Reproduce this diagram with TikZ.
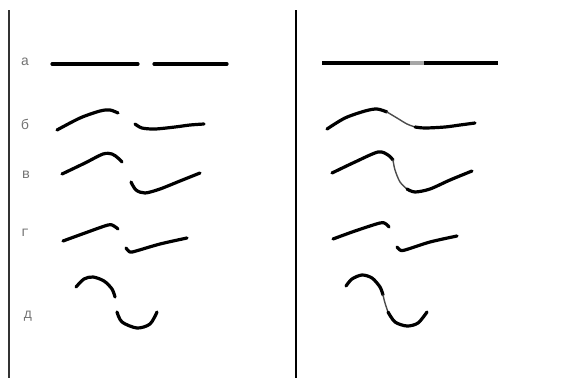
\documentclass[tikz,border=0pt]{standalone}
\usepackage{fontspec}
\newfontfamily\labelfont{Liberation Mono}
\usetikzlibrary{positioning}

\begin{document}
\begin{tikzpicture}[
  x=1pt, y=-1pt,
  rowlabel/.style={font=\labelfont\fontsize{14}{16}\selectfont, text=black!55},
  rule/.style={line width=1.8pt},
  stroke/.style={line width=3.2pt, line cap=round, line join=round},
  joint/.style={line width=1.4pt, line cap=round, draw=black!70},
  gap/.style={line width=3.2pt, draw=black!35}
]
\useasboundingbox (0,0) rectangle (581,378);

% panel rules
\draw[rule, draw=black!80] (9,10) -- (9,378);
\draw[rule, draw=black] (296,10) -- (296,378);

% row labels
\node[rowlabel] (la) at (25,62) {а};
\node[rowlabel] (lb) at (25,124) {б};
\node[rowlabel] (lv) at (26,175) {в};
\node[rowlabel] (lg) at (25,233) {г};
\node[rowlabel] (ld) at (28,316) {д};

% left panel: separate pieces
\draw[stroke] (52,64) -- (138,64);
\draw[stroke] (154,64) -- (227,64);

\draw[stroke] plot[smooth] coordinates {(57,130) (80,118) (100,111) (110,110) (118,113)};
\draw[stroke] plot[smooth] coordinates {(135,124) (142,128) (155,129) (175,127) (190,125) (204,124)};

\draw[stroke] plot[smooth] coordinates {(62,174) (85,163) (103,154) (112,154) (118,158) (122,162)};
\draw[stroke] plot[smooth] coordinates {(131,182) (136,190) (145,193) (160,189) (180,181) (200,173)};

\draw[stroke] plot[smooth] coordinates {(63,241) (85,233) (108,225) (114,226) (118,229)};
\draw[stroke] plot[smooth] coordinates {(126,248) (130,252) (136,251) (160,244) (187,238)};

\draw[stroke] plot[smooth] coordinates {(76,287) (84,279) (93,277) (104,281) (112,289) (115,297)};
\draw[stroke] plot[smooth] coordinates {(117,312) (122,322) (137,328) (150,324) (157,312)};

% right panel: joined pieces
\draw[stroke, line cap=butt] (322,63) -- (410,63);
\draw[gap] (410,63) -- (424,63);
\draw[stroke, line cap=butt] (424,63) -- (498,63);

\draw[stroke] plot[smooth] coordinates {(327,129) (345,118) (365,111) (377,109) (387,112)};
\draw[joint] plot[smooth] coordinates {(387,112) (397,118) (407,124) (415,127)};
\draw[stroke] plot[smooth] coordinates {(415,127) (425,128) (445,127) (460,125) (475,123)};

\draw[stroke] plot[smooth] coordinates {(332,173) (355,162) (378,152) (388,155) (393,160)};
\draw[joint] plot[smooth] coordinates {(393,160) (395,170) (400,182) (407,189)};
\draw[stroke] plot[smooth] coordinates {(407,189) (415,192) (430,189) (450,180) (472,171)};

\draw[stroke] plot[smooth] coordinates {(333,239) (355,231) (380,223) (386,224) (389,227)};
\draw[stroke] plot[smooth] coordinates {(397,247) (400,250) (405,250) (430,242) (457,236)};

\draw[stroke] plot[smooth] coordinates {(346,286) (352,279) (362,275) (372,278) (380,287) (383,295)};
\draw[joint] plot[smooth] coordinates {(383,295) (385,303) (388,312)};
\draw[stroke] plot[smooth] coordinates {(388,312) (395,322) (407,326) (418,323) (427,312)};
\end{tikzpicture}
\end{document}
